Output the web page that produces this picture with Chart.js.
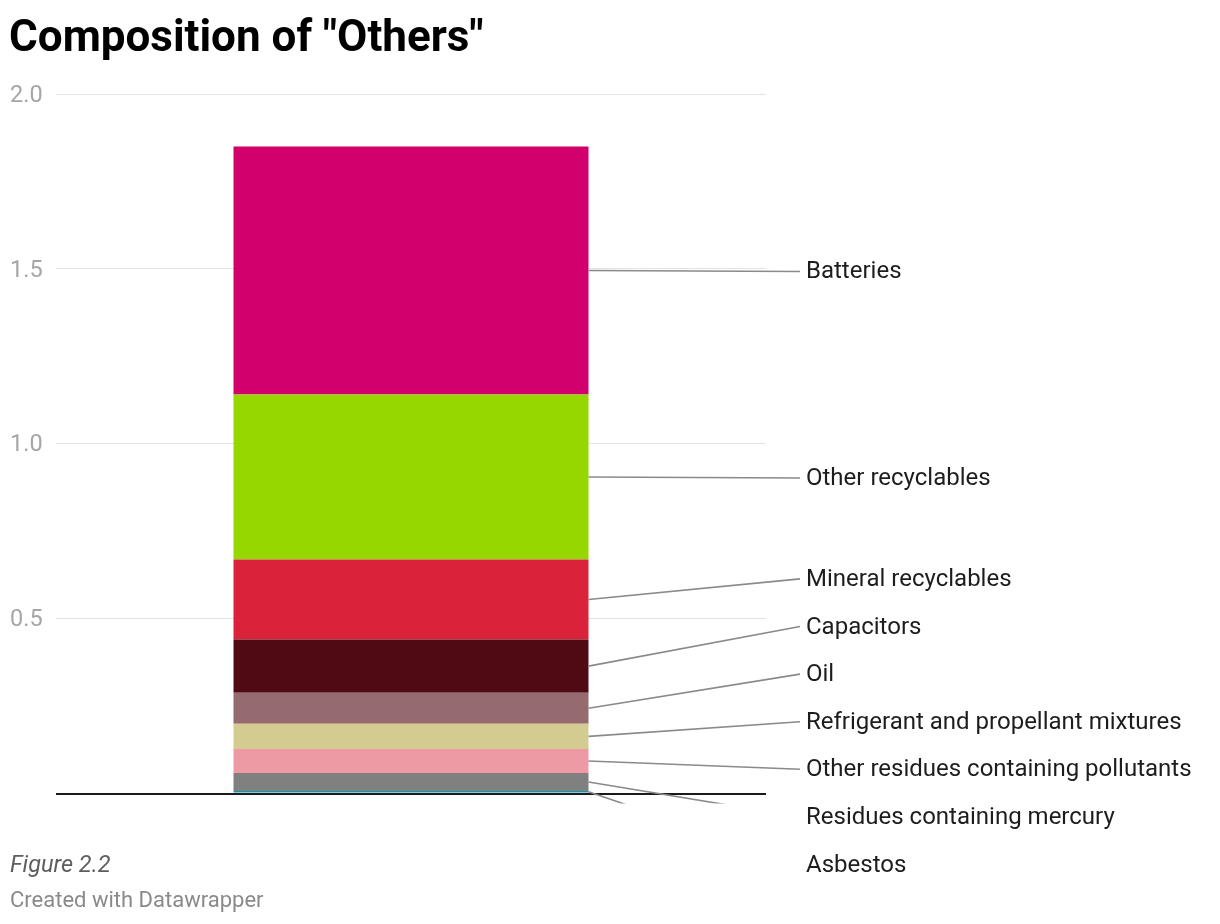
<!DOCTYPE html>
<html><head><meta charset="utf-8">
<script src="https://cdn.jsdelivr.net/npm/chart.js@4/dist/chart.umd.min.js"></script>
<style>html,body{margin:0;padding:0;background:#fff}#wrap{position:absolute;left:0;top:0;width:1220px;height:924px}</style>
</head><body><div id="wrap"><canvas id="c" width="1220" height="924"></canvas></div>
<script>
// ---- data ----
const categories = ["Others"];
const seriesNames = [
  "Asbestos",
  "Residues containing mercury",
  "Other residues containing pollutants",
  "Refrigerant and propellant mixtures",
  "Oil",
  "Capacitors",
  "Mineral recyclables",
  "Other recyclables",
  "Batteries"
];
const asbestos = [0.006];
const mercury = [0.051];
const otherResidues = [0.069];
const refrigerant = [0.072];
const oil = [0.089];
const capacitors = [0.152];
const mineralRecyclables = [0.229];
const otherRecyclables = [0.472];
const batteries = [0.710];
const seriesValues = [asbestos, mercury, otherResidues, refrigerant, oil, capacitors, mineralRecyclables, otherRecyclables, batteries];
const seriesColors = ["#1596a8","#808080","#ee9aa5","#d3cb90","#966b70","#4f0a14","#da223b","#97d700","#d1006d"];
const yTicks = [0, 0.5, 1.0, 1.5, 2.0];

const titleText = 'Composition of "Others"';
const noteText = 'Figure 2.2';
const creditText = 'Created with Datawrapper';

// ---- label layout (cluster relaxation) ----
function layoutLabels(targets, gap) {
  let groups = targets.map(t => ({ n: 1, sum: t }));
  let changed = true;
  while (changed) {
    changed = false;
    for (let i = 0; i < groups.length - 1; i++) {
      const a = groups[i], b = groups[i + 1];
      const aBottom = a.sum / a.n + (a.n - 1) * gap / 2;
      const bTop = b.sum / b.n - (b.n - 1) * gap / 2;
      if (bTop - aBottom < gap) {
        groups.splice(i, 2, { n: a.n + b.n, sum: a.sum + b.sum });
        changed = true;
        break;
      }
    }
  }
  const out = [];
  groups.forEach(g => {
    const top = g.sum / g.n - (g.n - 1) * gap / 2;
    for (let k = 0; k < g.n; k++) out.push(top + k * gap);
  });
  return out;
}

const decorPlugin = {
  id: 'decor',
  afterDatasetsDraw(chart) {
    const ctx = chart.ctx;
    const area = chart.chartArea;
    const y = chart.scales.y;
    // baseline
    ctx.save();
    ctx.strokeStyle = '#1a1a1a';
    ctx.lineWidth = 2;
    ctx.beginPath();
    ctx.moveTo(area.left, y.getPixelForValue(0) + 1);
    ctx.lineTo(area.right, y.getPixelForValue(0) + 1);
    ctx.stroke();
    ctx.restore();

    // labels, top to bottom
    const items = [];
    for (let i = chart.data.datasets.length - 1; i >= 0; i--) {
      const el = chart.getDatasetMeta(i).data[0];
      const top = Math.min(el.y, el.base), bot = Math.max(el.y, el.base);
      items.push({ name: chart.data.datasets[i].label, mid: (top + bot) / 2, right: el.x + el.width / 2 });
    }
    const pos = layoutLabels(items.map(d => d.mid), 47.6);
    const lineEndX = 800, textX = 806;
    ctx.save();
    ctx.beginPath();
    ctx.rect(0, 0, chart.width, area.bottom + 10.5);
    ctx.clip();
    ctx.strokeStyle = '#8a8a8a';
    ctx.lineWidth = 1.6;
    items.forEach((d, k) => {
      ctx.beginPath();
      ctx.moveTo(d.right, d.mid);
      ctx.lineTo(lineEndX, pos[k] + 1);
      ctx.stroke();
    });
    ctx.restore();
    ctx.save();
    ctx.fillStyle = '#1d1d1d';
    ctx.font = '24px Roboto';
    ctx.textBaseline = 'middle';
    ctx.textAlign = 'left';
    items.forEach((d, k) => ctx.fillText(d.name, textX, pos[k] + 2));
    ctx.restore();

    // title & footer
    ctx.save();
    ctx.textAlign = 'left';
    ctx.textBaseline = 'alphabetic';
    ctx.fillStyle = '#000';
    ctx.font = 'bold 44px Roboto';
    ctx.fillText(titleText, 9, 51);
    ctx.fillStyle = '#5e5e5e';
    ctx.font = 'italic 23.5px Roboto';
    ctx.fillText(noteText, 10, 872);
    ctx.fillStyle = '#8a8a8a';
    ctx.font = '22px Roboto';
    ctx.fillText(creditText, 10, 907);
    ctx.restore();
  }
};

new Chart(document.getElementById('c'), {
  type: 'bar',
  data: {
    labels: categories,
    datasets: seriesNames.map((n, i) => ({
      label: n,
      data: seriesValues[i],
      backgroundColor: seriesColors[i],
      borderWidth: 0,
      barPercentage: 0.5,
      categoryPercentage: 1.0
    }))
  },
  options: {
    responsive: false,
    devicePixelRatio: 1,
    animation: false,
    layout: { padding: { left: 10, top: 94, right: 454, bottom: 131 } },
    plugins: { legend: { display: false }, tooltip: { enabled: false }, title: { display: false } },
    scales: {
      x: { stacked: true, display: false },
      y: {
        stacked: true,
        min: yTicks[0],
        max: yTicks[yTicks.length - 1],
        afterBuildTicks: s => { s.ticks = yTicks.map(v => ({ value: v })); },
        afterFit: s => { s.width = 46; },
        border: { display: false },
        grid: {
          drawTicks: false,
          color: c => (c.tick && c.tick.value === 0) ? 'rgba(0,0,0,0)' : '#e3e3e3',
          lineWidth: 1
        },
        ticks: {
          crossAlign: 'far',
          padding: 0,
          labelOffset: 2,
          color: '#a6a6a6',
          font: { family: 'Roboto', size: 23.5 },
          callback: v => v === 0 ? '' : Number(v).toFixed(1)
        }
      }
    }
  },
  plugins: [decorPlugin]
});
</script>
</body></html>
